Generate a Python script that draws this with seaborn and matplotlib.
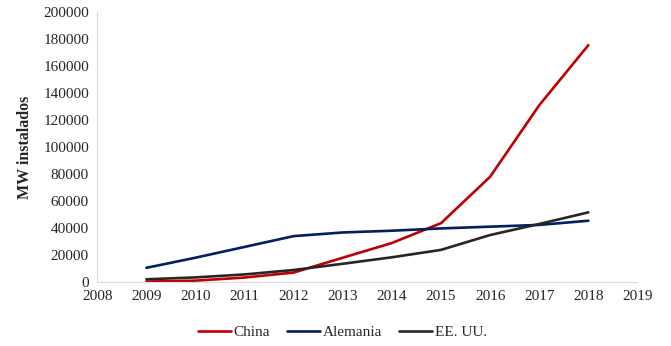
import matplotlib
matplotlib.use("Agg")
import matplotlib.pyplot as plt
import seaborn as sns
import pandas as pd

years = [2009, 2010, 2011, 2012, 2013, 2014, 2015, 2016, 2017, 2018]
china = [300, 1000, 3300, 7000, 18000, 28900, 43600, 78000, 131000, 175500]
alemania = [10500, 18000, 26000, 34000, 36700, 38000, 39700, 41000, 42300, 45400]
eeuu = [2000, 3400, 5600, 8900, 13500, 18300, 23800, 34800, 43000, 51600]
series_names = ["China", "Alemania", "EE. UU."]
colors = ["#c00000", "#002060", "#262626"]

rows = []
for name, vals in zip(series_names, [china, alemania, eeuu]):
    for y, v in zip(years, vals):
        rows.append({"year": y, "MW": v, "pais": name})
df = pd.DataFrame(rows)

sns.set_style("white")
plt.rcParams["font.family"] = ["Liberation Serif", "DejaVu Serif"]

fig, ax = plt.subplots(figsize=(6.71, 3.46), dpi=100)
fig.subplots_adjust(left=0.145, right=0.95, top=0.965, bottom=0.185)

sns.lineplot(data=df, x="year", y="MW", hue="pais", palette=colors,
             linewidth=1.9, ax=ax)

ax.set_xlim(2008, 2019)
ax.set_ylim(0, 200000)
ax.set_xticks(range(2008, 2020))
ax.set_yticks(range(0, 200001, 20000))
ax.tick_params(length=0, labelsize=11, pad=6)
ax.set_xlabel("")
ax.set_ylabel("MW instalados", fontsize=11.5, fontweight="bold", labelpad=7)

for s in ["top", "right"]:
    ax.spines[s].set_visible(False)
ax.spines["left"].set_color("#d9d9d9")
ax.spines["bottom"].set_color("#d9d9d9")

# legend sits a bit left of the axes centre in the original
ax.legend(title=None, loc="center", bbox_to_anchor=(0.51, 0.04),
          bbox_transform=fig.transFigure,
          ncol=3, frameon=False, fontsize=11, handlelength=2.2,
          handletextpad=0.15, columnspacing=1.1)

fig.savefig("out.png", dpi=100)
